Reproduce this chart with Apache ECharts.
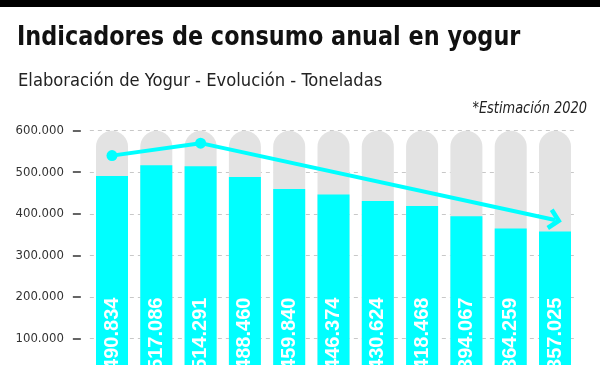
<!DOCTYPE html>
<html><head><meta charset="utf-8">
<script src="https://cdn.jsdelivr.net/npm/echarts@6/dist/echarts.min.js"></script>
<style>html,body{margin:0;padding:0;background:#fff}#c{width:600px;height:365px}</style>
</head><body><div id="c"></div>
<script>
var categories = ['2010','2011','2012','2013','2014','2015','2016','2017','2018','2019','2020'];
var values = [490834, 517086, 514291, 488460, 459840, 446374, 430624, 418468, 394067, 364259, 357025];
var trendStart = [540000, 570000];
var trendEnd = 385000;
var yTicks = [0, 100000, 200000, 300000, 400000, 500000, 600000];
var titleText = 'Indicadores de consumo anual en yogur';
var subtitleText = 'Elaboración de Yogur - Evolución - Toneladas';
var noteText = '*Estimación 2020';

function fmt(v){ return String(v).replace(/\B(?=(\d{3})+(?!\d))/g, '.'); }

var lineData = categories.map(function(){ return '-'; });
lineData[0] = trendStart[0];
lineData[2] = trendStart[1];

var F = 'DejaVu Sans Condensed';
var chart = echarts.init(document.getElementById('c'), null, {renderer:'canvas'});
var cyan = '#00FFFF';
chart.setOption({
  animation:false,
  graphic:[
    {type:'rect', left:0, top:0, shape:{width:600, height:7}, style:{fill:'#000'}},
    {type:'text', x:17, y:25, scaleX:0.956, style:{text:titleText, font:'bold 26px "DejaVu Sans Condensed"', fill:'#111', verticalAlign:'top'}},
    {type:'text', x:18, y:73, scaleX:1.07, style:{text:subtitleText, font:'17px "DejaVu Sans Condensed"', fill:'#222', verticalAlign:'top'}},
    {type:'text', x:587, y:101, scaleX:0.9, style:{text:noteText, font:'italic 16px "DejaVu Sans Condensed"', fill:'#222', verticalAlign:'top', align:'right'}}
  ],
  grid:{left:89.85, top:130.7, width:487.3, height:249.2, containLabel:false, outerBoundsMode:'none'},
  xAxis:{type:'category', data:categories, axisLine:{show:false}, axisTick:{show:false}, axisLabel:{show:false}},
  yAxis:{type:'value', min:yTicks[0], max:yTicks[yTicks.length-1], interval:yTicks[1]-yTicks[0], offset:9,
    axisLine:{show:false},
    axisTick:{show:true, length:8, lineStyle:{color:'#333', width:1.5}},
    axisLabel:{margin:17, fontFamily:F, fontSize:13, color:'#333', formatter:function(v){ return v===0?'':fmt(v); }},
    splitLine:{lineStyle:{type:[4,4], color:'#c8c8c8', width:1}}
  },
  series:[
    {type:'bar', data:values, barWidth:32, itemStyle:{color:cyan},
      showBackground:true, backgroundStyle:{color:'#e3e3e3', borderRadius:[16,16,0,0]},
      label:{show:true, position:'insideBottom', rotate:90, align:'left', verticalAlign:'middle', distance:10,
        fontFamily:'Liberation Sans', fontWeight:'bold', fontSize:20, color:'#fff', formatter:function(p){return fmt(p.value);}}},
    {type:'line', data:lineData, connectNulls:true, symbol:'circle', symbolSize:11, z:5,
      itemStyle:{color:cyan}, lineStyle:{color:cyan, width:4},
      markLine:{silent:true, symbol:['none','path://M0,10 L10,0 L20,10 L17,13 L10,6 L3,13 Z'], symbolSize:[22,14],
        label:{show:false}, lineStyle:{color:cyan, width:4, type:'solid'},
        data:[[{coord:[2, trendStart[1]]},{coord:[10, trendEnd]}]]}}
  ]
});
</script></body></html>
